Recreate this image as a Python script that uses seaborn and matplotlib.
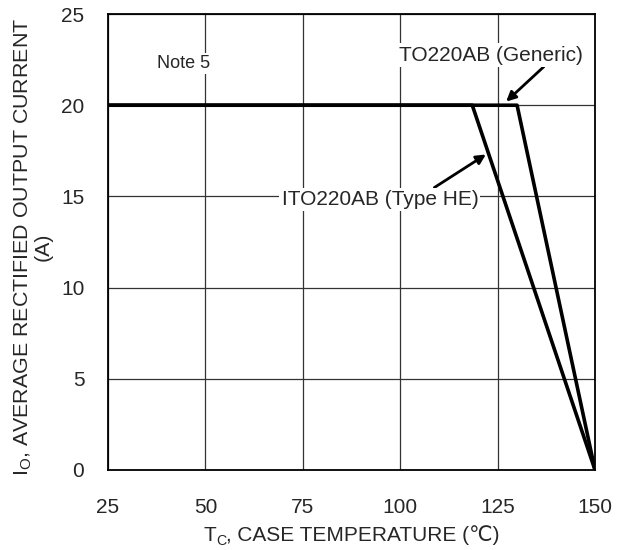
import matplotlib
matplotlib.use('Agg')

import matplotlib.pyplot as plt
import matplotlib.transforms as mtransforms
import pandas as pd
import seaborn as sns

# derating curves (case temperature in C, current in A)
temp_generic = [25, 130, 150]
current_generic = [20, 20, 0]
temp_he = [25, 118.5, 150]
current_he = [20, 20, 0]

x_ticks = [25, 50, 75, 100, 125, 150]
y_ticks = [0, 5, 10, 15, 20, 25]


sns.set_theme(style='whitegrid', rc={
	'grid.color': '#333333',
	'grid.linewidth': 0.9,
	'axes.edgecolor': 'black',
	'axes.linewidth': 1.3,
})
plt.rcParams['font.family'] = ['Liberation Sans', 'DejaVu Sans']
plt.rcParams['mathtext.fontset'] = 'custom'
plt.rcParams['mathtext.rm'] = 'Liberation Sans'
plt.rcParams['mathtext.it'] = 'Liberation Sans'

fs = 15

df = pd.concat([
	pd.DataFrame({'temp': temp_generic, 'current': current_generic, 'part': 'TO220AB'}),
	pd.DataFrame({'temp': temp_he, 'current': current_he, 'part': 'ITO220AB'}),
])

fig = plt.figure(figsize=(6.22, 5.5), dpi=100)
ax = fig.add_axes([0.1736, 0.1455, 0.783, 0.829])

sns.lineplot(data=df, x='temp', y='current', units='part', estimator=None,
	sort=False, color='black', linewidth=2.6, ax=ax, zorder=4)

ax.set_xlim(25, 150)
ax.set_ylim(0, 25)
ax.set_xticks(x_ticks)
ax.set_yticks(y_ticks)
ax.tick_params(labelsize=fs, length=0)
ax.tick_params(axis='x', pad=20)
ax.tick_params(axis='y', pad=17)
ax.set_xlabel('')
ax.set_ylabel('I$_\\mathrm{O}$, AVERAGE RECTIFIED OUTPUT CURRENT\n(A)', fontsize=15.4,
	linespacing=1.0)
ax.yaxis.set_label_coords(-0.113, 0.49)

box = dict(facecolor='white', edgecolor='none', pad=1.5)

ax.text(44.3, 22.3, 'Note 5', fontsize=13, ha='center', va='center', bbox=box, zorder=3)

ax.annotate('TO220AB (Generic)', xy=(127.2, 20.2), xytext=(123.3, 22.75),
	fontsize=fs, ha='center', va='center', bbox=box, zorder=3,
	arrowprops=dict(arrowstyle='-|>', color='black', lw=2, mutation_scale=14,
		shrinkA=0, shrinkB=0, relpos=(0.8, 0.0)))

ax.annotate('ITO220AB (Type HE)', xy=(122, 17.3), xytext=(94.8, 14.85),
	fontsize=fs, ha='center', va='center', bbox=box, zorder=3,
	arrowprops=dict(arrowstyle='-|>', color='black', lw=2, mutation_scale=14,
		shrinkA=0, shrinkB=0, relpos=(0.76, 1.0)))

# x label built from pieces so the subscript and the degree sign both render
fig.canvas.draw()
renderer = fig.canvas.get_renderer()
pix = mtransforms.IdentityTransform()
pieces = [('T', fs, 0), ('C', fs * 0.68, -4), (', CASE TEMPERATURE (\u2103)', fs, 0)]
labels = [fig.text(0, 0, s, fontsize=size, ha='left', va='baseline', transform=pix)
	for s, size, dy in pieces]
widths = [t.get_window_extent(renderer).width for t in labels]

ax_box = ax.get_window_extent(renderer)
center = ax_box.x0 + 0.5 * ax_box.width
x = center - sum(widths) / 2
baseline = 9
for t, w, (s, size, dy) in zip(labels, widths, pieces):
	t.set_position((x, baseline + dy))
	x += w

plt.savefig('out.png', dpi=100)
plt.close()
